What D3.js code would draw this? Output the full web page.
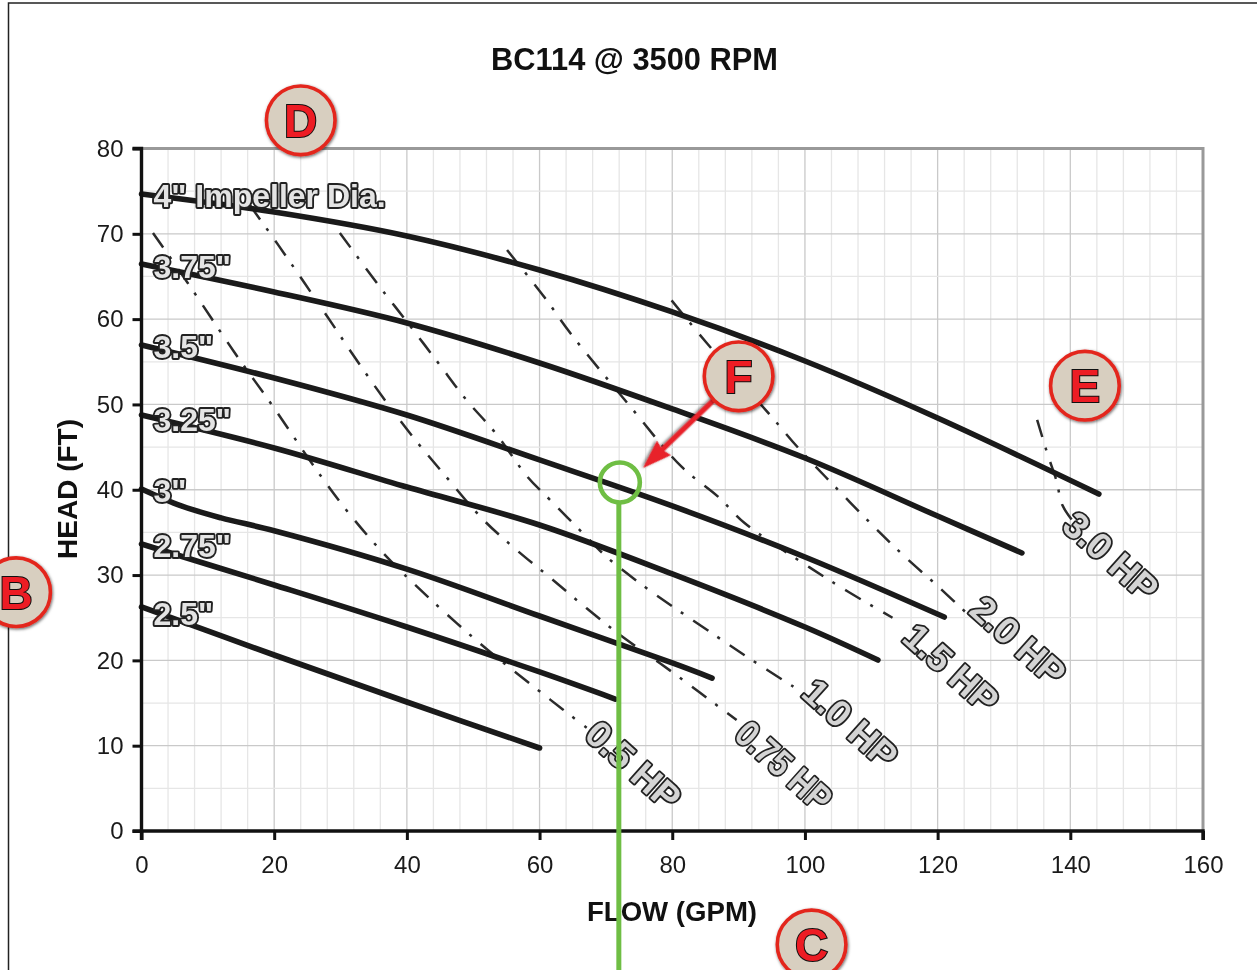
<!DOCTYPE html>
<html><head><meta charset="utf-8">
<script src="https://cdn.jsdelivr.net/npm/d3@7/dist/d3.min.js"></script>
<style>html,body{margin:0;padding:0;background:#fff;overflow:hidden}svg{display:block;filter:blur(.35px)}text{font-family:"Liberation Sans",Arial,sans-serif}</style>
</head><body><div id="c"></div>
<script>
const title="BC114 @ 3500 RPM", xTitle="FLOW (GPM)", yTitle="HEAD (FT)";
const xTicks=[0,20,40,60,80,100,120,140,160], yTicks=[0,10,20,30,40,50,60,70,80];
const xMinor=d3.range(0,161,4), yMinor=d3.range(0,81,5);
// Impeller curves [flow, head]
const d400=[[0,74.67],[20,72.56],[40,69.75],[60,65.76],[80,60.84],[100,55.09],[120,48.41],[144.3,39.5]];
const d375=[[0,66.46],[20,63.18],[40,59.55],[60,54.86],[80,49.47],[100,43.72],[120,36.92],[132.7,32.59]];
const d350=[[0,56.97],[20,53.1],[40,48.76],[60,43.49],[80,38.1],[100,32.12],[121,25.08]];
const d325=[[0,48.76],[20,44.9],[40,40.32],[60,35.87],[80,30.13],[100,23.91],[111,20.04]];
const d300=[[0,40.09],[6,38.1],[12,36.7],[20,35.2],[40,30.7],[60,25.2],[80,19.7],[86,17.93]];
const d275=[[0,33.64],[20,28.84],[40,23.91],[60,18.64],[71.4,15.47]];
const d250=[[0,26.26],[20,20.63],[40,15.12],[60,9.73]];
const impellers=[d400,d375,d350,d325,d300,d275,d250];
const impLabels=["4\" Impeller Dia.","3.75\"","3.5\"","3.25\"","3\"","2.75\"","2.5\""];
const impLabelAt=[[1.8,73.1],[1.8,64.8],[1.8,55.4],[1.8,46.9],[1.8,38.6],[1.8,32.1],[1.8,24.1]];
// Power curves
const hp05=[[1.73,70.1],[7,64.2],[14.1,56],[19.7,49.9],[26.4,42.3],[31.1,37.4],[36.4,32.6],[40.9,29.1],[50.7,22.2],[61.6,15.4],[67.1,12.1]];
const hp075=[[16.3,73.4],[20.6,68.7],[24.6,64.2],[28.7,59.5],[32.6,55],[36.7,50.5],[40.9,46.2],[45.3,42.1],[51.5,36.5],[56.6,32.9],[61.6,29.7],[67.1,26.1],[72.6,22.7],[78.1,19.7],[84.2,16.2],[89.7,13]];
const hp10=[[29.9,70.1],[35.9,63.8],[40,59.7],[44.7,54.9],[49,50.5],[53.3,46.7],[58.2,41.5],[61.6,38.8],[66.8,34.7],[70.3,32],[75.9,28.6],[81.4,25.6],[86.9,22.7],[90.9,20.6],[98.5,16.8]];
const hp15=[[55.1,68.1],[60.8,62.5],[64.6,58.4],[73.2,50.2],[81.4,42.7],[86.9,39.2],[90.9,36.1],[100.7,30.9],[106.4,28.1],[113.2,25]];
const hp20=[[79.9,62.2],[85.2,57.2],[94.7,48.8],[99,44.9],[104.6,40.3],[110.5,35.6],[115,32.2],[120.3,28.5],[125.1,25]];
const hp30=[[135,48.2],[136.6,44.1],[137.9,41.1],[138.8,38.2],[140.6,36.1]];
const powers=[hp05,hp075,hp10,hp15,hp20,hp30];
const hpLabels=["0.5 HP","0.75 HP","1.0 HP","1.5 HP","2.0 HP","3.0 HP"];
const hpLabelAt=[[66.5,11],[89.1,11],[99.2,15.9],[114.4,22.4],[124.5,25.6],[138.5,35.5]];
const hpLabelWiden=[1,.86,1,1,1,1];
const badgeNames=["B","C","D","E","F"];
const badgeAt=[[-18.9,28],[101,-13.3],[24,83.3],[142.2,52.2],[90,53.3]];
const markPoint=[72.1,40.85];
const arrowEnd=[75.6,42.55];

const W=1257,H=970;
const x=d3.scaleLinear().domain([0,160]).range([141.5,1203]);
const y=d3.scaleLinear().domain([0,80]).range([831,148.5]);
const svg=d3.select("#c").append("svg").attr("width",W).attr("height",H);
const defs=svg.append("defs");
const f=defs.append("filter").attr("id","sh").attr("x","-30%").attr("y","-30%").attr("width","160%").attr("height","160%");
f.append("feDropShadow").attr("dx",.8).attr("dy",1.2).attr("stdDeviation",1.4).attr("flood-color","#000").attr("flood-opacity",.6);
// frame
svg.append("path").attr("d",`M8.5,${H}V3H${W}`).attr("fill","none").attr("stroke","#222").attr("stroke-width",1.5);
// grid
const g=svg.append("g");
g.selectAll(".vm").data(xMinor).join("line").attr("x1",x).attr("x2",x).attr("y1",y(0)).attr("y2",y(80)).attr("stroke",d=>d%20==0?"#c9c9c9":"#e6e6e6").attr("stroke-width",1.3);
g.selectAll(".hm").data(yMinor).join("line").attr("y1",y).attr("y2",y).attr("x1",x(0)).attr("x2",x(160)).attr("stroke",d=>d%10==0?"#c9c9c9":"#e6e6e6").attr("stroke-width",1.3);
g.append("path").attr("d",`M${x(0)},${y(80)}H${x(160)}V${y(0)}`).attr("fill","none").attr("stroke","#999").attr("stroke-width",3);
// power lines
const line=d3.line().x(d=>x(d[0])).y(d=>y(d[1])).curve(d3.curveCatmullRom.alpha(.5));
svg.append("g").selectAll("path").data(powers).join("path").attr("d",line).attr("fill","none").attr("stroke","#2b2b2b").attr("stroke-width",2.5).attr("stroke-dasharray","18 11 3 12");
// impellers
svg.append("g").selectAll("path").data(impellers).join("path").attr("d",line).attr("fill","none").attr("stroke","#1a1a1a").attr("stroke-width",5.6).attr("stroke-linecap","round");
// axes
const ax=svg.append("g").attr("transform",`translate(0,${y(0)})`).call(d3.axisBottom(x).tickValues(xTicks).tickSize(9).tickPadding(16));
const ay=svg.append("g").attr("transform",`translate(${x(0)},0)`).call(d3.axisLeft(y).tickValues(yTicks).tickSize(9).tickPadding(9));
[ax,ay].forEach(a=>{a.selectAll("path").attr("stroke","#111").attr("stroke-width",3.4);a.selectAll("line").attr("stroke","#111").attr("stroke-width",3);a.selectAll("text").attr("font-size",24).attr("fill","#1a1a1a").style("font-family",'"Liberation Sans",Arial,sans-serif');});
ax.select("path").attr("d",`M${x(0)},9V0H${x(160)}V9`);
ay.select("path").attr("d",`M-9,${y(80)}H0V${y(0)}H-9`);
// titles
svg.append("text").attr("x",634.5).attr("y",70).attr("text-anchor","middle").attr("font-size",30.8).attr("font-weight","bold").attr("fill","#111").text(title);
svg.append("text").attr("x",672).attr("y",921).attr("text-anchor","middle").attr("font-size",27.6).attr("font-weight","bold").attr("fill","#111").text(xTitle);
svg.append("text").attr("transform","translate(77,489) rotate(-90)").attr("text-anchor","middle").attr("font-size",28).attr("font-weight","bold").attr("fill","#111").text(yTitle);
// labels
svg.append("g").selectAll("text").data(impLabels).join("text")
 .attr("x",(d,i)=>x(impLabelAt[i][0])).attr("y",(d,i)=>y(impLabelAt[i][1])).attr("font-size",32).attr("font-weight","bold")
 .attr("fill","#e4e4e4").attr("stroke","#222").attr("stroke-width",3.8).attr("paint-order","stroke").attr("stroke-linejoin","round").text(d=>d);
svg.append("g").selectAll("text").data(hpLabels).join("text")
 .attr("transform",(d,i)=>`translate(${x(hpLabelAt[i][0])},${y(hpLabelAt[i][1])}) rotate(42) scale(${hpLabelWiden[i]},1)`).attr("font-size",37).attr("font-weight","bold")
 .attr("fill","#d4d4d4").attr("stroke","#222").attr("stroke-width",3.6).attr("paint-order","stroke").attr("stroke-linejoin","round").text(d=>d);
// green marker
svg.append("line").attr("x1",x(markPoint[0])-1).attr("x2",x(markPoint[0])-1).attr("y1",y(markPoint[1])+21).attr("y2",H).attr("stroke","#6fbe44").attr("stroke-width",5);
svg.append("circle").attr("cx",x(markPoint[0])).attr("cy",y(markPoint[1])).attr("r",20).attr("fill","none").attr("stroke","#6fbe44").attr("stroke-width",4.6);
// arrow
const bi=badgeNames.indexOf("F");
const ang=Math.atan2(y(arrowEnd[1])-y(badgeAt[bi][1]),x(arrowEnd[0])-x(badgeAt[bi][0]));
const ag=svg.append("g").attr("transform",`translate(${x(arrowEnd[0])},${y(arrowEnd[1])}) rotate(${ang*180/Math.PI})`).attr("filter","url(#sh)");
ag.append("path").attr("d","M0,0L-29,-10L-27,-2.6L-100,-2.6L-100,2.6L-27,2.6L-29,10Z").attr("fill","#e8242a");
// badges
const b=svg.append("g").selectAll("g").data(badgeNames).join("g").attr("transform",(d,i)=>`translate(${x(badgeAt[i][0])},${y(badgeAt[i][1])})`);
b.append("circle").attr("r",34.3).attr("fill","#d8cfc0").attr("stroke","#e3261f").attr("stroke-width",3.6).attr("filter","url(#sh)");
b.append("text").attr("text-anchor","middle").attr("y",16.5).attr("font-size",46).attr("font-weight","bold").attr("fill","#ed1c24").attr("stroke","#111").attr("stroke-width",2).attr("paint-order","stroke").text(d=>d);
</script></body></html>
